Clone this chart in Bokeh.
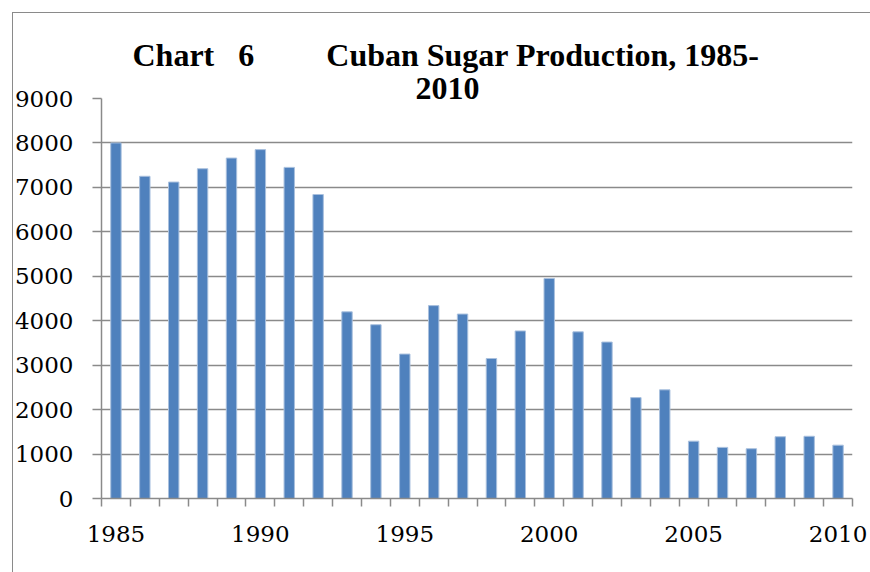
from bokeh.plotting import figure
from bokeh.layouts import column
from bokeh.models import FixedTicker, Title
from bokeh.embed import file_html
from bokeh.resources import INLINE

# Data: Cuban sugar production (thousand tonnes)
years = [1985, 1986, 1987, 1988, 1989, 1990, 1991, 1992, 1993, 1994, 1995, 1996, 1997,
         1998, 1999, 2000, 2001, 2002, 2003, 2004, 2005, 2006, 2007, 2008, 2009, 2010]
production = [8000, 7250, 7120, 7420, 7660, 7850, 7450, 6840, 4200, 3910, 3250, 4340, 4150,
              3150, 3770, 4950, 3750, 3520, 2270, 2445, 1290, 1150, 1120, 1390, 1400, 1200]
x_tick_labels = [1985, 1990, 1995, 2000, 2005, 2010]
y_ticks = [0, 1000, 2000, 3000, 4000, 5000, 6000, 7000, 8000, 9000]

NB = "\u00a0"  # non-breaking space keeps the wide gaps of the original title
title_line1 = "Chart" + NB * 3 + "6" + NB * 9 + "Cuban Sugar Production, 1985-"
title_line2 = "2010"

GRAY = "#8a8a8a"
BLUE = "#4f81bd"

p = figure(width=870, height=572, output_backend="svg", toolbar_location=None,
           x_range=(years[0] - 0.5, years[-1] + 0.5), y_range=(y_ticks[0], y_ticks[-1]),
           min_border_left=101, min_border_right=18, min_border_top=98, min_border_bottom=74)
p.title.visible = False
p.outline_line_color = None
p.background_fill_color = "white"
p.border_fill_color = None

p.vbar(x=years, top=production, width=0.36, fill_color=BLUE, line_color="#a9c0de", line_width=1)

# Y axis
p.yaxis.ticker = FixedTicker(ticks=y_ticks)
p.yaxis.axis_line_color = GRAY
p.yaxis.axis_line_width = 1.5
p.yaxis.major_tick_line_color = GRAY
p.yaxis.major_tick_line_width = 1.5
p.yaxis.major_tick_out = 9
p.yaxis.major_tick_in = 0
p.yaxis.minor_tick_line_color = None
p.yaxis.major_label_standoff = 19
p.yaxis.major_label_text_font = "DejaVu Serif"
p.yaxis.major_label_text_font_size = "23px"
p.yaxis.major_label_text_color = "black"

# X axis: category boundaries as minor ticks, labels every 5 years
boundaries = [y - 0.5 for y in years] + [years[-1] + 0.5]
p.xaxis.ticker = FixedTicker(ticks=x_tick_labels, minor_ticks=boundaries)
p.xaxis.axis_line_color = GRAY
p.xaxis.axis_line_width = 1.5
p.xaxis.major_tick_line_color = None
p.xaxis.major_tick_out = 0
p.xaxis.major_tick_in = 0
p.xaxis.minor_tick_line_color = GRAY
p.xaxis.minor_tick_line_width = 1.5
p.xaxis.minor_tick_out = 8
p.xaxis.minor_tick_in = 0
p.xaxis.major_label_standoff = 19
p.xaxis.major_label_text_font = "DejaVu Serif"
p.xaxis.major_label_text_font_size = "23px"
p.xaxis.major_label_text_color = "black"

p.xgrid.grid_line_color = None
p.ygrid.grid_line_color = GRAY
p.ygrid.grid_line_width = 1.5

# Title (two lines; second line added first so it sits next to the plot)
for txt, off, so in [(title_line2, 314, 0), (title_line1, 31, 6)]:
    p.add_layout(Title(text=txt, align="left", offset=off, standoff=so,
                       text_font="Liberation Serif", text_font_style="bold",
                       text_font_size="32px", text_color="black"), "above")

# outer chart border: only its left and top edges fall inside the window
page = column(p, styles={
    "background-color": "white",
    "background-image": "linear-gradient(#8a8a8a, #8a8a8a), linear-gradient(#8a8a8a, #8a8a8a)",
    "background-position": "12px 12px, 12px 12px",
    "background-size": "1px 100%, 100% 1px",
    "background-repeat": "no-repeat, no-repeat",
})

open("out.html", "w").write(file_html(page, INLINE))
